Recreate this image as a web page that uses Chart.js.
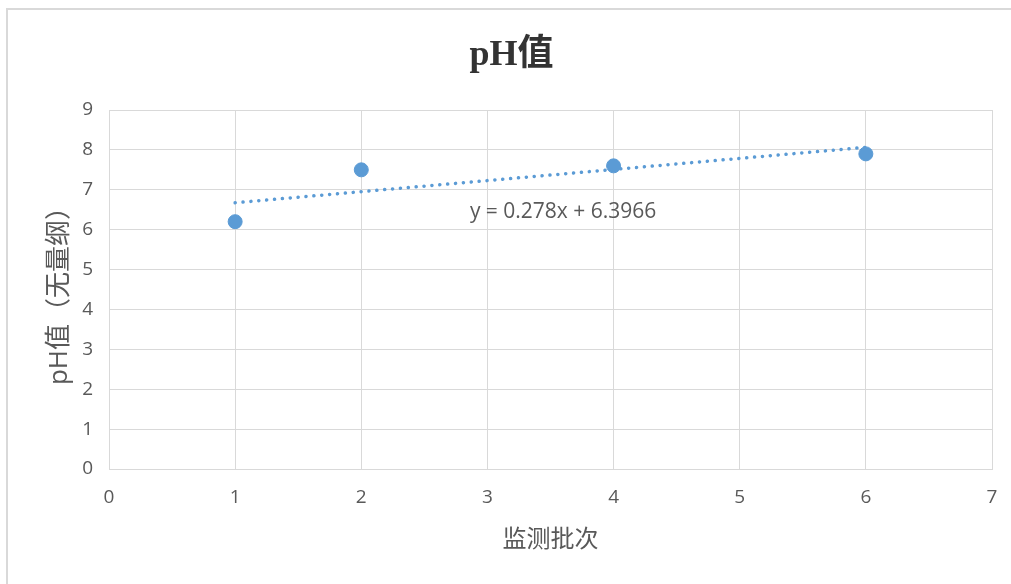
<!DOCTYPE html>
<html>
<head>
<meta charset="utf-8">
<script src="https://cdn.jsdelivr.net/npm/chart.js@4"></script>
<style>
  html, body { margin: 0; padding: 0; background: #fff; }
  #wrap { width: 1011px; height: 584px; position: relative; }
</style>
</head>
<body>
<div id="wrap"><canvas id="phChart"></canvas></div>
<script>
// -- Data --
const batches = [1, 2, 4, 6];
const phValues = [6.2, 7.5, 7.6, 7.9];
const trendSlope = 0.278;
const trendIntercept = 6.3966;
const trendLabel = 'y = 0.278x + 6.3966';
const xTicks = [0, 1, 2, 3, 4, 5, 6, 7];
const yTicks = [0, 1, 2, 3, 4, 5, 6, 7, 8, 9];
const labelAt = { x: 3.6, y: 6.45 };

const blue = '#5B9BD5';
const gray = '#595959';
const gridColor = '#d9d9d9';
const sans = "'Open Sans', 'Noto Sans CJK SC', sans-serif";

const points = batches.map((b, i) => ({ x: b, y: phValues[i] }));
const xFirst = batches[0];
const xLast = batches[batches.length - 1];
const trendPoints = [xFirst, xLast].map(x => ({ x: x, y: trendSlope * x + trendIntercept }));

// -- Plugins --
const frame = {
    id: 'frame',
    beforeDraw(chart) {
        const ctx = chart.ctx;
        ctx.save();
        ctx.fillStyle = '#fff';
        ctx.fillRect(0, 0, chart.width, chart.height);
        ctx.strokeStyle = gridColor;
        ctx.lineWidth = 2;
        ctx.strokeRect(7, 9, chart.width + 20, chart.height + 20);
        ctx.restore();
    }
};

const equation = {
    id: 'equation',
    afterDatasetsDraw(chart) {
        const ctx = chart.ctx;
        const x = chart.scales.x.getPixelForValue(labelAt.x);
        const y = chart.scales.y.getPixelForValue(labelAt.y);
        ctx.save();
        ctx.font = "21px " + sans;
        ctx.fillStyle = gray;
        ctx.textAlign = 'center';
        ctx.textBaseline = 'middle';
        ctx.fillText(trendLabel, x, y);
        ctx.restore();
    }
};

new Chart(document.getElementById('phChart'), {
    type: 'scatter',
    data: {
        datasets: [{
            label: 'pH值',
            data: points,
            backgroundColor: blue,
            borderColor: blue,
            pointRadius: 7,
            pointHoverRadius: 7,
            order: 1
        }, {
            label: 'trend',
            type: 'line',
            data: trendPoints,
            borderColor: blue,
            borderWidth: 3.5,
            borderDash: [0.1, 7.8],
            borderCapStyle: 'round',
            pointRadius: 0,
            fill: false,
            order: 2
        }]
    },
    options: {
        responsive: true,
        maintainAspectRatio: false,
        animation: false,
        layout: { padding: { left: 31, right: 19, top: 0, bottom: 20 } },
        plugins: {
            legend: { display: false },
            tooltip: { enabled: false },
            title: {
                display: true,
                text: 'pH值',
                color: '#333333',
                font: { family: "'Liberation Serif', 'Noto Sans CJK SC', serif", size: 36, weight: 'bold', lineHeight: 1.2 },
                padding: { top: 34, bottom: 32.8 }
            }
        },
        scales: {
            x: {
                type: 'linear',
                min: xTicks[0],
                max: xTicks[xTicks.length - 1],
                afterBuildTicks: s => { s.ticks = xTicks.map(v => ({ value: v })); },
                afterFit: s => { s.height = 95; s.paddingLeft = 0; s.paddingRight = 0; },
                grid: { color: gridColor, drawTicks: false },
                border: { color: gridColor },
                ticks: { color: gray, font: { family: sans, size: 19 }, padding: 17 },
                title: {
                    display: true,
                    text: '监测批次',
                    color: gray,
                    font: { family: sans, size: 24, lineHeight: 1.2 },
                    padding: { top: 0, bottom: 9 }
                }
            },
            y: {
                min: yTicks[0],
                max: yTicks[yTicks.length - 1],
                afterBuildTicks: s => { s.ticks = yTicks.map(v => ({ value: v })); },
                afterFit: s => { s.width = 78; },
                grid: { color: gridColor, drawTicks: false },
                border: { color: gridColor },
                ticks: { color: gray, font: { family: sans, size: 19 }, padding: 16 },
                title: {
                    display: true,
                    text: 'pH值（无量纲）',
                    color: gray,
                    font: { family: sans, size: 26, lineHeight: 1.2 },
                    padding: { top: 13, bottom: 0 }
                }
            }
        }
    },
    plugins: [frame, equation]
});
</script>
</body>
</html>
